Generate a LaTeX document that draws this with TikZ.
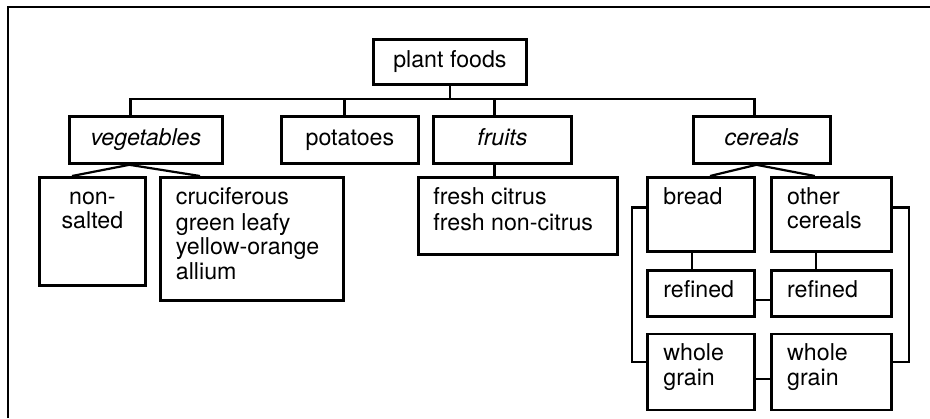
\documentclass[tikz,border=0pt]{standalone}
\usepackage{fontspec}
\setmainfont{TeX Gyre Heros}
\usetikzlibrary{positioning,calc}
\newcommand{\foodfont}{\fontsize{11.6}{12.1}\selectfont}
\tikzset{
  box/.style={draw, line width=1.4pt, inner sep=0pt, anchor=north west},
  head/.style={box, text height=1ex, text depth=0pt},
  txt/.style={anchor=north west, inner sep=0pt, align=left},
  link/.style={line width=1.1pt},
  every node/.style={font=\foodfont}
}

\begin{document}
\begin{tikzpicture}[x=0.5pt,y=0.5pt]
\useasboundingbox (0,0) rectangle (930,-418);
\draw[line width=1.4pt] (8,-418) |- (930,-7);

% top row
\node[head, minimum width=76.5pt, minimum height=22.5pt] (plant) at (372,-38) {plant foods};
\node[head, minimum width=76.5pt, minimum height=23.5pt] (veg) at (68,-115) {\itshape vegetables};
\node[head, minimum width=68.5pt, minimum height=23.5pt] (pot) at (280,-115) {potatoes};
\node[head, minimum width=69pt, minimum height=23.5pt] (fruits) at (432,-115) {\itshape fruits};
\node[head, minimum width=68.5pt, minimum height=23.5pt] (cereals) at (692,-115) {\itshape cereals};

% sub groups
\node[box, minimum width=53pt, minimum height=54pt] (nonsalted) at (38,-176) {};
\node[box, minimum width=91.5pt, minimum height=61.5pt] (cruc) at (159,-176) {};
\node[box, minimum width=99.5pt, minimum height=38.5pt] (citrus) at (417,-176) {};
\node[box, minimum width=53.5pt, minimum height=37pt] (bread) at (646,-176) {};
\node[box, minimum width=60pt, minimum height=37pt, right=7pt of bread.north east, anchor=north west] (other) {};
\node[box, minimum width=53.5pt, minimum height=23pt, below=8pt of bread.south west, anchor=north west] (refL) {};
\node[box, minimum width=60pt, minimum height=23pt, below=8pt of other.south west, anchor=north west] (refR) {};
\node[box, minimum width=53.5pt, minimum height=38pt, below=7.5pt of refL.south west, anchor=north west] (wgL) {};
\node[box, minimum width=60pt, minimum height=38pt, below=7.5pt of refR.south west, anchor=north west] (wgR) {};

\node[txt, anchor=north, align=center] (nonsaltedT) at ([yshift=-5.5pt]nonsalted.north) {\strut non-\\\strut salted};
\node[txt] (crucT) at ([shift={(8.25pt,-5.5pt)}]cruc.north west) {\strut cruciferous\\\strut green leafy\\\strut yellow-orange\\\strut allium};
\node[txt] (citrusT) at ([shift={(8pt,-5.5pt)}]citrus.north west) {\strut fresh citrus\\\strut fresh non-citrus};
\node[txt] (breadT) at ([shift={(8.5pt,-5.5pt)}]bread.north west) {\strut bread};
\node[txt] (otherT) at ([shift={(8.5pt,-5.5pt)}]other.north west) {\strut other\\\strut cereals};
\node[txt] (refLT) at ([shift={(8.5pt,-5.5pt)}]refL.north west) {\strut refined};
\node[txt] (refRT) at ([shift={(8.5pt,-5.5pt)}]refR.north west) {\strut refined};
\node[txt] (wgLT) at ([shift={(8.5pt,-5.5pt)}]wgL.north west) {\strut whole\\\strut grain};
\node[txt] (wgRT) at ([shift={(8.5pt,-5.5pt)}]wgR.north west) {\strut whole\\\strut grain};

% tree lines
\coordinate (bar) at (0,-99);
\coordinate (vegS) at ([xshift=-7.75pt]veg.north);
\coordinate (potS) at ([xshift=-2.75pt]pot.north);
\coordinate (fruS) at ([xshift=-4pt]fruits.north);
\coordinate (cerS) at ([xshift=-3.75pt]cereals.north);
\draw[link] (plant.south) -- (plant.south |- bar);
\draw[link] (vegS) -- (vegS |- bar) -| (cerS);
\draw[link] (potS) -- (potS |- bar);
\draw[link] (fruS) -- (fruS |- bar);

\coordinate (vegB) at ([xshift=-8.25pt]veg.south);
\draw[link] ([xshift=17pt]nonsalted.north west) -- (vegB) -- ([xshift=20.5pt]cruc.north west);
\draw[link] (fruS |- fruits.south) -- (fruS |- citrus.north);
\coordinate (cerB) at ([xshift=-2.75pt]cereals.south);
\draw[link] ([xshift=32pt]bread.north west) -- (cerB) -- ([xshift=22.5pt]other.north west);

\draw[link] ([xshift=23pt]bread.south west) -- ([xshift=23pt]refL.north west);
\draw[link] ([xshift=23pt]other.south west) -- ([xshift=23pt]refR.north west);
\draw[link] ([yshift=-3.5pt]refL.east) -- ([yshift=-3.5pt]refR.west);
\draw[link] ([yshift=-3.5pt]wgL.east) -- ([yshift=-3.5pt]wgR.west);
\draw[link] ([yshift=3.5pt]bread.west) -- ++(-7pt,0) |- ([yshift=5pt]wgL.west);
\draw[link] ([yshift=3.5pt]other.east) -- ++(8pt,0) |- ([yshift=5pt]wgR.east);
\end{tikzpicture}
\end{document}
